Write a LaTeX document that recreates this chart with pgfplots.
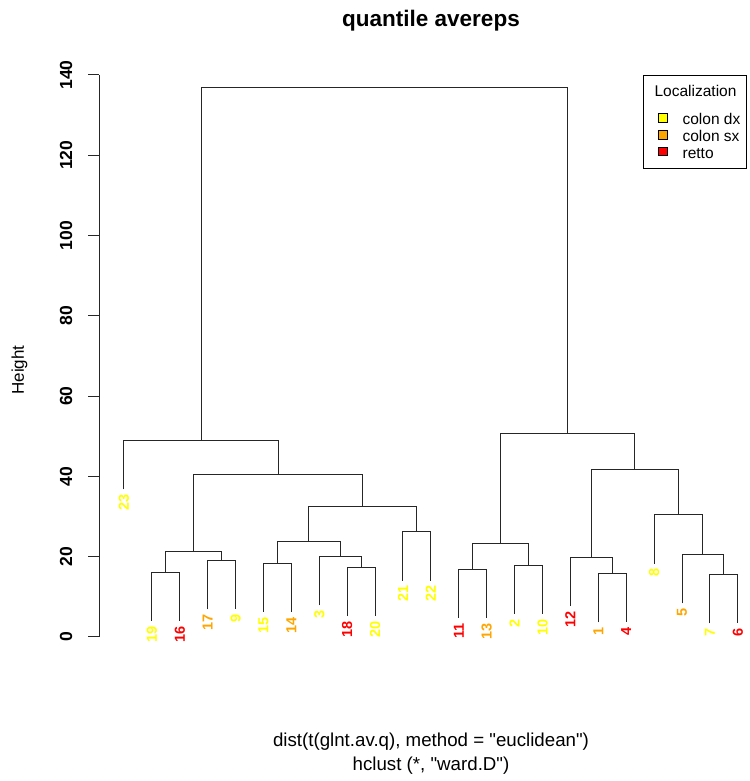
\documentclass[border=0pt]{standalone}
\usepackage{fontspec}
\setmainfont{Liberation Sans}[Ligatures=TeXOff]
\usepackage{pgfplots}
\usepackage{pgfplotstable}
\pgfplotsset{compat=1.18}

\definecolor{rYellow}{HTML}{FFFF00}
\definecolor{rOrange}{HTML}{FFA500}
\definecolor{rRed}{HTML}{FF0000}

% Dendrogram merges: each block runs up the left child, across, and down the
% right child; the nan rows break the path between merges.
\pgfplotstableread{
x h
2 3.97
2 16.1
3 16.1
3 3.97
nan nan
4 6.87
4 19.0
5 19.0
5 6.87
nan nan
2.5 16.1
2.5 21.4
4.5 21.4
4.5 19.0
nan nan
6 6.27
6 18.4
7 18.4
7 6.27
nan nan
9 5.17
9 17.3
10 17.3
10 5.17
nan nan
8 7.87
8 20.0
9.5 20.0
9.5 17.3
nan nan
6.5 18.4
6.5 23.8
8.75 23.8
8.75 20.0
nan nan
11 14.07
11 26.2
12 26.2
12 14.07
nan nan
7.625 23.8
7.625 32.5
11.5 32.5
11.5 26.2
nan nan
3.5 21.4
3.5 40.6
9.5625 40.6
9.5625 32.5
nan nan
1 36.77
1 48.9
6.53125 48.9
6.53125 40.6
nan nan
13 4.77
13 16.9
14 16.9
14 4.77
nan nan
15 5.77
15 17.9
16 17.9
16 5.77
nan nan
13.5 16.9
13.5 23.3
15.5 23.3
15.5 17.9
nan nan
18 3.67
18 15.8
19 15.8
19 3.67
nan nan
17 7.67
17 19.8
18.5 19.8
18.5 15.8
nan nan
22 3.37
22 15.5
23 15.5
23 3.37
nan nan
21 8.37
21 20.5
22.5 20.5
22.5 15.5
nan nan
20 18.27
20 30.4
21.75 30.4
21.75 20.5
nan nan
17.75 19.8
17.75 41.8
20.875 41.8
20.875 30.4
nan nan
14.5 23.3
14.5 50.7
19.3125 50.7
19.3125 41.8
nan nan
3.765625 48.9
3.765625 136.8
16.90625 136.8
16.90625 50.7
}\merges

% Leaves: position, end of the hanging line, label -- one table per localization
\pgfplotstableread{
x h lab
1 36.77 23
2 3.97 19
5 6.87 9
6 6.27 15
8 7.87 3
10 5.17 20
11 14.07 21
12 14.07 22
15 5.77 2
16 5.77 10
20 18.27 8
22 3.37 7
}\leavesdx
\pgfplotstableread{
x h lab
4 6.87 17
7 6.27 14
14 4.77 13
18 3.67 1
21 8.37 5
}\leavessx
\pgfplotstableread{
x h lab
3 3.97 16
9 5.17 18
13 4.77 11
17 7.67 12
19 3.67 4
23 3.37 6
}\leavesretto

\pgfplotsset{
  leaf labels/.style={
    draw=none, mark=none, forget plot,
    nodes near coords, point meta=explicit symbolic,
    every node near coord/.append style={
      anchor=east, rotate=90, inner xsep=5pt, inner ysep=0pt,
      font=\fontsize{14.5pt}{15pt}\selectfont\bfseries, text=#1},
  },
}

\begin{document}
\begin{tikzpicture}
\path[use as bounding box] (0pt,0pt) rectangle (749pt,781pt);
\begin{axis}[
  at={(99.4pt,144pt)}, anchor=south west,
  scale only axis, width=649.6pt, height=562pt,
  xmin=0.12, xmax=23.4, ymin=0, ymax=140,
  clip=false,
  axis x line=none, axis y line*=left,
  axis line style={black!85, line width=1pt},
  ytick={0,20,...,140},
  ytick align=outside, major tick length=11pt,
  tick style={black!85, line width=1pt},
  /pgf/number format/assume math mode=true,
  yticklabel style={rotate=90, anchor=south, inner sep=0pt,
    font=\fontsize{17.5pt}{18pt}\selectfont\bfseries},
  yticklabel shift=15.9pt,
  legend cell align=left,
  legend image code/.code={\draw[#1, draw=black, line width=0.8pt] (0pt,-3.2pt) rectangle (9pt,5.2pt);},
  legend style={at={(0.997,1)}, anchor=north east, draw=black, line width=0.8pt,
    font=\fontsize{15.5pt}{16pt}\selectfont,
    inner xsep=14pt, inner ysep=10.5pt, row sep=5.7pt, column sep=15pt,
    nodes={inner sep=0pt, text height=11pt, text depth=0pt}},
]
\addlegendimage{empty legend}
\addlegendentry[text depth=10.8pt]{\hspace*{-28pt}Localization\hspace*{-4pt}}
\addlegendimage{fill=rYellow}
\addlegendentry{colon dx\hspace*{-7.7pt}}
\addlegendimage{fill=rOrange}
\addlegendentry{colon sx\hspace*{-7.7pt}}
\addlegendimage{fill=rRed}
\addlegendentry{retto}

\addplot[black!85, line width=1pt, mark=none, unbounded coords=jump, forget plot]
  table[x=x, y=h] {\merges};

\addplot[leaf labels=rYellow] table[x=x, y=h, meta=lab] {\leavesdx};
\addplot[leaf labels=rOrange] table[x=x, y=h, meta=lab] {\leavessx};
\addplot[leaf labels=rRed]    table[x=x, y=h, meta=lab] {\leavesretto};
\end{axis}

\node[anchor=base, font=\fontsize{22.5pt}{24pt}\selectfont\bfseries]
  at (431pt,754pt) {quantile avereps};
\node[anchor=base, font=\fontsize{18.7pt}{20pt}\selectfont]
  at (431pt,34pt) {dist(t(glnt.av.q), method = "euclidean")};
\node[anchor=base, font=\fontsize{18.7pt}{20pt}\selectfont]
  at (431pt,10pt) {hclust (*, "ward.D")};
\node[rotate=90, font=\fontsize{17pt}{18pt}\selectfont]
  at (19.5pt,411pt) {Height};
\end{tikzpicture}
\end{document}
